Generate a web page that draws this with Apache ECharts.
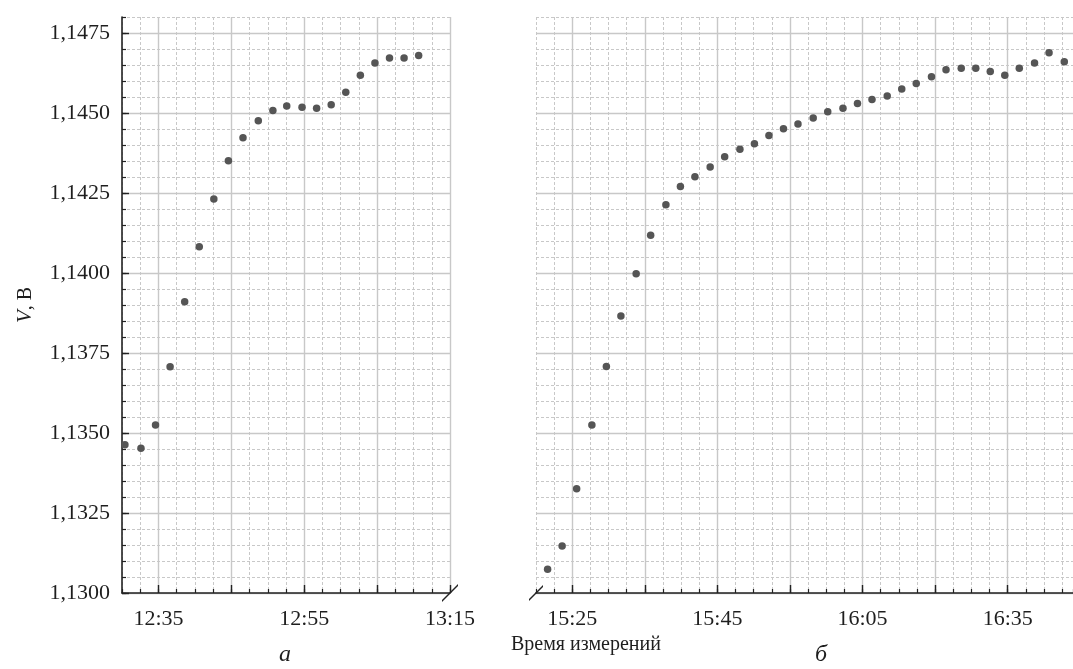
<!DOCTYPE html>
<html>
<head>
<meta charset="utf-8">
<script src="https://cdn.jsdelivr.net/npm/echarts@6/dist/echarts.min.js"></script>
<style>
html,body{margin:0;padding:0;background:#fff;}
#chart{width:1073px;height:669px;}
</style>
</head>
<body>
<div id="chart"></div>
<script>
// ---- data (time in minutes since midnight, voltage in V) ----
const leftTimes = [750.4, 752.6, 754.6, 756.6, 758.6, 760.6, 762.6, 764.6, 766.6, 768.7, 770.7,
                   772.6, 774.7, 776.7, 778.7, 780.7, 782.7, 784.7, 786.7, 788.7, 790.7];
const leftVolts = [1.13463, 1.13452, 1.13525, 1.13707, 1.13910, 1.14082, 1.14231, 1.14351, 1.14423, 1.14476, 1.14508,
                   1.14522, 1.14518, 1.14515, 1.14526, 1.14565, 1.14618, 1.14656, 1.14672, 1.14672, 1.14680];
const rightTimes = [921.6, 923.6, 925.6, 927.7, 929.7, 931.7, 933.8, 935.8, 937.9, 939.9, 941.9, 944.0,
                    946.0, 948.1, 950.1, 952.1, 954.1, 956.1, 958.2, 960.2, 962.3, 964.3, 966.3, 968.4,
                    970.4, 972.4, 974.5, 976.5, 978.6, 980.6, 982.6, 984.6, 986.6, 988.7, 990.7, 992.8];
const rightVolts = [1.13074, 1.13147, 1.13326, 1.13525, 1.13708, 1.13866, 1.13998, 1.14118, 1.14213, 1.14270, 1.14301, 1.14331,
                    1.14363, 1.14387, 1.14404, 1.14430, 1.14451, 1.14466, 1.14484, 1.14504, 1.14515, 1.14530, 1.14542, 1.14553,
                    1.14575, 1.14592, 1.14613, 1.14635, 1.14640, 1.14640, 1.14630, 1.14618, 1.14640, 1.14656, 1.14688, 1.14660];
const leftTickValues = [755, 775, 795];
const leftTickLabels = ['12:35', '12:55', '13:15'];
const rightTickValues = [925, 945, 965, 985];
const rightTickLabels = ['15:25', '15:45', '16:05', '16:35'];
const yTickValues = [1.1300, 1.1325, 1.1350, 1.1375, 1.1400, 1.1425, 1.1450, 1.1475];
const leftMajorTicks = [755, 765, 775, 785, 795];
const rightMajorTicks = [925, 935, 945, 955, 965, 975, 985];

// ---- styling ----
const FONT = '"Liberation Serif", "DejaVu Serif", serif';
const TXT = '#1e1e1e';
const AX = '#222';
const minorLine = {show: true, lineStyle: {color: '#c8c8c8', width: 1, type: [3, 2]}};
const majorLine = {show: true, lineStyle: {color: '#c8c8c8', width: 1.4, type: 'solid'}};
const breakPath = 'path://M0,0 L1.3,0 L11.3,10 L10,10 Z';

const chart = echarts.init(document.getElementById('chart'));
chart.setOption({
  backgroundColor: '#fff',
  animation: false,
  title: [
    {text: 'Время измерений', left: 511, top: 635, padding: 0,
     textStyle: {fontFamily: FONT, fontSize: 20, fontWeight: 'normal', color: TXT}},
    {text: 'а', left: 279, top: 643, padding: 0,
     textStyle: {fontFamily: FONT, fontSize: 24, fontStyle: 'italic', fontWeight: 'normal', color: TXT}},
    {text: 'б', left: 815, top: 643, padding: 0,
     textStyle: {fontFamily: FONT, fontSize: 24, fontStyle: 'italic', fontWeight: 'normal', color: TXT}}
  ],
  grid: [
    {left: 122, top: 17, width: 328, height: 576},
    {left: 536, top: 17, width: 537, height: 576}
  ],
  xAxis: [
    {gridIndex: 0, type: 'value', position: 'bottom', min: 750, max: 795, interval: 2.5,
     axisLine: {show: true, onZero: false, lineStyle: {color: AX, width: 1.6},
                symbol: ['none', breakPath], symbolSize: [22, 16]},
     axisTick: {show: true, inside: true, length: 4, lineStyle: {color: AX, width: 1.2}},
     axisLabel: {show: false}, splitLine: minorLine},
    {gridIndex: 0, type: 'value', position: 'bottom', min: 750, max: 795,
     axisLine: {show: false, onZero: false},
     axisTick: {show: true, inside: true, length: 8, customValues: leftMajorTicks, lineStyle: {color: AX, width: 1.4}},
     axisLabel: {show: true, customValues: leftTickValues, margin: 15, fontFamily: FONT, fontSize: 22, color: TXT,
                 formatter: v => leftTickLabels[leftTickValues.indexOf(v)]},
     splitLine: majorLine},
    {gridIndex: 1, type: 'value', position: 'bottom', min: 920, max: 994, interval: 2.5,
     axisLine: {show: true, onZero: false, lineStyle: {color: AX, width: 1.6},
                symbol: [breakPath, 'none'], symbolSize: [20, 14]},
     axisTick: {show: true, inside: true, length: 4, lineStyle: {color: AX, width: 1.2}},
     axisLabel: {show: false}, splitLine: minorLine},
    {gridIndex: 1, type: 'value', position: 'bottom', min: 920, max: 994,
     axisLine: {show: false, onZero: false},
     axisTick: {show: true, inside: true, length: 8, customValues: rightMajorTicks, lineStyle: {color: AX, width: 1.4}},
     axisLabel: {show: true, customValues: rightTickValues, margin: 15, fontFamily: FONT, fontSize: 22, color: TXT,
                 formatter: v => rightTickLabels[rightTickValues.indexOf(v)]},
     splitLine: majorLine}
  ],
  yAxis: [
    {gridIndex: 0, type: 'value', position: 'left', min: 1.13, max: 1.148, interval: 0.0005,
     axisLine: {show: true, onZero: false, lineStyle: {color: AX, width: 1.6}},
     axisTick: {show: true, inside: true, length: 4, lineStyle: {color: AX, width: 1.2}},
     axisLabel: {show: false}, splitLine: minorLine},
    {gridIndex: 0, type: 'value', position: 'left', min: 1.13, max: 1.148,
     name: '{i|V}, В', nameLocation: 'middle', nameGap: 86, nameRotate: 90,
     nameTextStyle: {fontFamily: FONT, fontSize: 20, color: TXT,
                     rich: {i: {fontFamily: FONT, fontSize: 21, fontStyle: 'italic', color: TXT}}},
     axisLine: {show: false, onZero: false},
     axisTick: {show: true, inside: true, length: 7, customValues: yTickValues, lineStyle: {color: AX, width: 1.4}},
     axisLabel: {show: true, customValues: yTickValues, margin: 12, fontFamily: FONT, fontSize: 22, color: TXT,
                 formatter: v => v.toFixed(4).replace('.', ',')},
     splitLine: majorLine},
    {gridIndex: 1, type: 'value', position: 'left', min: 1.13, max: 1.148, interval: 0.0005,
     axisLine: {show: false}, axisTick: {show: false}, axisLabel: {show: false}, splitLine: minorLine},
    {gridIndex: 1, type: 'value', position: 'left', min: 1.13, max: 1.148,
     axisLine: {show: false}, axisTick: {show: false, customValues: yTickValues},
     axisLabel: {show: false}, splitLine: majorLine}
  ],
  series: [
    {type: 'scatter', xAxisIndex: 0, yAxisIndex: 0, symbolSize: 7.5, z: 5,
     itemStyle: {color: '#555', opacity: 1},
     data: leftTimes.map((t, i) => [t, leftVolts[i]])},
    {type: 'scatter', xAxisIndex: 2, yAxisIndex: 2, symbolSize: 7.5, z: 5,
     itemStyle: {color: '#555', opacity: 1},
     data: rightTimes.map((t, i) => [t, rightVolts[i]])}
  ]
});
</script>
</body>
</html>
